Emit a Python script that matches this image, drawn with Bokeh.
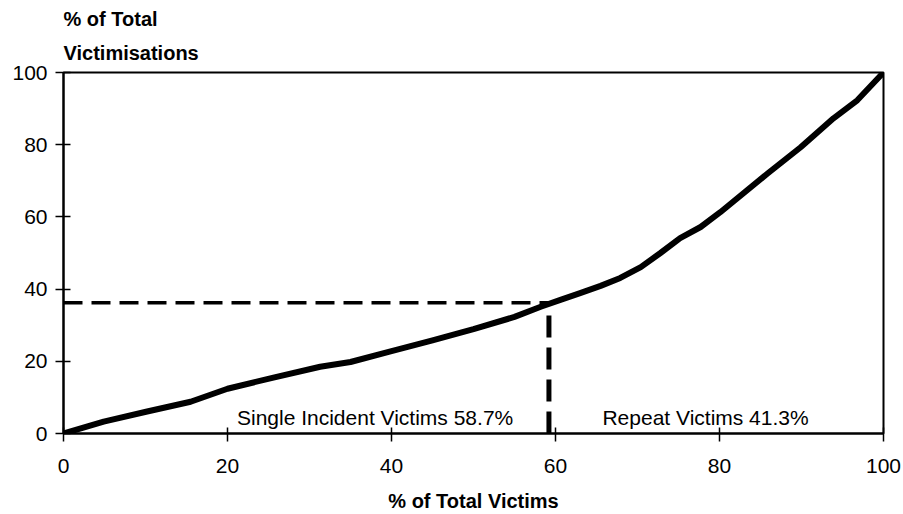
from bokeh.plotting import figure
from bokeh.models import Range1d, Label, FixedTicker, Title
from bokeh.embed import file_html
from bokeh.resources import INLINE

# ---- data ----
victims_pct = [0, 4.9, 10.2, 15.5, 20, 25.6, 31.3, 35, 40, 45, 50, 55, 58.2,
               60.6, 63, 65.5, 67.9, 70.4, 72.8, 75.2, 77.7, 80.1, 85.9, 89.9,
               93.9, 96.8, 100]
victimisations_pct = [0, 3.3, 6.1, 8.8, 12.4, 15.5, 18.5, 19.8, 22.8, 25.8, 28.9, 32.3, 35.1,
                      37, 38.9, 40.9, 43.1, 46.1, 50, 54.1, 57.2, 61.3, 72.1, 79.3,
                      87.3, 92.3, 100]
split_x = 59.2
split_y = 36.2
x_ticks = [0, 20, 40, 60, 80, 100]
y_ticks = [0, 20, 40, 60, 80, 100]
single_label = "Single Incident Victims 58.7%"
repeat_label = "Repeat Victims 41.3%"
x_title = "% of Total Victims"
y_title_lines = ["% of Total", "Victimisations"]

FONT = "Liberation Sans"

p = figure(width=903, height=514, output_backend="svg", toolbar_location=None,
           x_range=Range1d(0, 100), y_range=Range1d(0, 100),
           min_border_left=63, min_border_right=20, min_border_top=72, min_border_bottom=80)
p.background_fill_color = "white"
p.border_fill_color = "white"
p.outline_line_color = "black"
p.outline_line_width = 2
p.xgrid.visible = False
p.ygrid.visible = False

for ax in (p.xaxis[0], p.yaxis[0]):
    ax.axis_line_width = 2
    ax.axis_line_color = "black"
    ax.major_tick_line_width = 1.5
    ax.major_tick_line_color = "black"
    ax.minor_tick_line_color = None
    ax.major_label_text_font = FONT
    ax.major_label_text_font_size = "21px"
    ax.major_label_text_color = "black"

p.xaxis[0].ticker = FixedTicker(ticks=x_ticks)
p.yaxis[0].ticker = FixedTicker(ticks=y_ticks)
p.xaxis[0].major_tick_in = 6
p.xaxis[0].major_tick_out = 8
p.yaxis[0].major_tick_in = 7
p.yaxis[0].major_tick_out = 8
p.xaxis[0].major_label_standoff = 17
p.yaxis[0].major_label_standoff = 8

# x axis title
p.xaxis[0].axis_label = x_title
p.xaxis[0].axis_label_text_font = FONT
p.xaxis[0].axis_label_text_font_size = "20px"
p.xaxis[0].axis_label_text_font_style = "bold"
p.xaxis[0].axis_label_text_color = "black"
p.xaxis[0].axis_label_standoff = 14

# y axis title as two stacked titles above the frame (closest first)
p.add_layout(Title(text=y_title_lines[1], align="left", text_font=FONT, text_font_size="20px",
                   text_font_style="bold", text_color="black", standoff=18), "above")
p.add_layout(Title(text=y_title_lines[0], align="left", text_font=FONT, text_font_size="20px",
                   text_font_style="bold", text_color="black", standoff=2), "above")

# reference lines
p.line([0, split_x], [split_y, split_y], line_color="black", line_width=3.5, line_dash="19 9")
p.line([split_x, split_x], [0, split_y], line_color="black", line_width=5, line_dash="22 10")

# curve
p.line(victims_pct, victimisations_pct, line_color="black", line_width=6,
       line_join="round", line_cap="round")

# annotations
p.add_layout(Label(x=38.0, y=4.4, text=single_label, text_font=FONT, text_font_size="21px",
                   text_align="center", text_baseline="alphabetic", text_color="black"))
p.add_layout(Label(x=78.3, y=4.3, text=repeat_label, text_font=FONT, text_font_size="21px",
                   text_align="center", text_baseline="alphabetic", text_color="black"))

open("out.html", "w").write(file_html(p, INLINE))
